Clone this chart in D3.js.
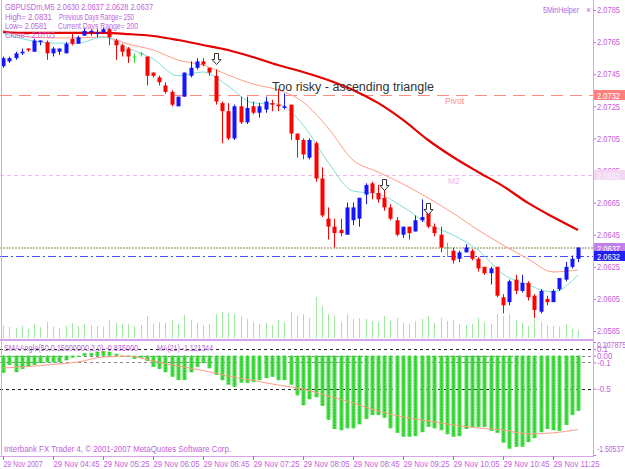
<!DOCTYPE html>
<html>
<head>
<meta charset="utf-8">
<script src="https://cdn.jsdelivr.net/npm/d3@7"></script>
<style>
  body { margin: 0; background: #fff; }
  svg text { font-family: "Liberation Sans", Arial, sans-serif; }
</style>
</head>
<body>
<svg id="chart" width="625" height="469"></svg>
<script>
// GBPUSDm M5 bars, 29 Nov 2007 04:05 .. 11:45
const opens = [
  2.0750, 2.0753, 2.0755, 2.0758, 2.0761, 2.0759, 2.0765, 2.0765, 2.0758, 2.0759,
  2.0758, 2.0767, 2.0764, 2.0769, 2.0771, 2.0770, 2.0771, 2.0773, 2.0766, 2.0763,
  2.0761, 2.0756, 2.0758, 2.0756, 2.0746, 2.0743, 2.0738, 2.0734, 2.0725, 2.0731,
  2.0744, 2.0749, 2.0753, 2.0749, 2.0744, 2.0727, 2.0722, 2.0705, 2.0725, 2.0715,
  2.0725, 2.0721, 2.0723, 2.0727, 2.0726, 2.0724, 2.0726, 2.0708, 2.0704, 2.0693,
  2.0702, 2.0680, 2.0655, 2.0650, 2.0648, 2.0645, 2.0654, 2.0655, 2.0670, 2.0677,
  2.0671, 2.0668, 2.0662, 2.0654, 2.0645, 2.0650, 2.0647, 2.0654, 2.0659, 2.0650,
  2.0645, 2.0637, 2.0635, 2.0630, 2.0634, 2.0635, 2.0630, 2.0625, 2.0621, 2.0625,
  2.0606, 2.0603, 2.0617, 2.0610, 2.0615, 2.0607, 2.0597, 2.0605, 2.0603, 2.0611,
  2.0617, 2.0625, 2.0630
];
const highs = [
  2.0756, 2.0756, 2.0759, 2.0761, 2.0761, 2.0767, 2.0766, 2.0766, 2.0762, 2.0761,
  2.0765, 2.0771, 2.0769, 2.0774, 2.0773, 2.0773, 2.0774, 2.0774, 2.0767, 2.0764,
  2.0762, 2.0758, 2.0759, 2.0756, 2.0746, 2.0744, 2.0740, 2.0735, 2.0731, 2.0746,
  2.0753, 2.0755, 2.0755, 2.0749, 2.0748, 2.0728, 2.0727, 2.0726, 2.0731, 2.0731,
  2.0728, 2.0727, 2.0731, 2.0729, 2.0736, 2.0733, 2.0726, 2.0708, 2.0705, 2.0705,
  2.0703, 2.0687, 2.0662, 2.0655, 2.0655, 2.0665, 2.0665, 2.0668, 2.0677, 2.0678,
  2.0676, 2.0678, 2.0664, 2.0656, 2.0650, 2.0650, 2.0657, 2.0667, 2.0660, 2.0652,
  2.0650, 2.0640, 2.0637, 2.0635, 2.0639, 2.0636, 2.0631, 2.0625, 2.0625, 2.0625,
  2.0608, 2.0617, 2.0620, 2.0620, 2.0616, 2.0608, 2.0611, 2.0607, 2.0611, 2.0618,
  2.0628, 2.0632, 2.0637
];
const lows = [
  2.0749, 2.0752, 2.0754, 2.0757, 2.0759, 2.0759, 2.0763, 2.0754, 2.0756, 2.0757,
  2.0758, 2.0763, 2.0764, 2.0769, 2.0769, 2.0768, 2.0770, 2.0763, 2.0754, 2.0756,
  2.0752, 2.0752, 2.0756, 2.0738, 2.0743, 2.0738, 2.0733, 2.0725, 2.0725, 2.0731,
  2.0743, 2.0748, 2.0750, 2.0744, 2.0726, 2.0702, 2.0704, 2.0704, 2.0714, 2.0714,
  2.0720, 2.0718, 2.0721, 2.0722, 2.0722, 2.0723, 2.0704, 2.0693, 2.0692, 2.0692,
  2.0678, 2.0656, 2.0642, 2.0637, 2.0644, 2.0645, 2.0651, 2.0650, 2.0664, 2.0667,
  2.0665, 2.0660, 2.0654, 2.0644, 2.0643, 2.0642, 2.0647, 2.0653, 2.0649, 2.0644,
  2.0634, 2.0631, 2.0627, 2.0628, 2.0634, 2.0629, 2.0622, 2.0620, 2.0614, 2.0606,
  2.0596, 2.0601, 2.0608, 2.0609, 2.0604, 2.0593, 2.0596, 2.0601, 2.0603, 2.0610,
  2.0616, 2.0624, 2.0628
];
const closes = [
  2.0755, 2.0755, 2.0758, 2.0759, 2.0760, 2.0766, 2.0766, 2.0758, 2.0761, 2.0761,
  2.0764, 2.0764, 2.0768, 2.0772, 2.0772, 2.0771, 2.0773, 2.0768, 2.0763, 2.0759,
  2.0756, 2.0756, 2.0758, 2.0744, 2.0744, 2.0740, 2.0734, 2.0726, 2.0731, 2.0746,
  2.0749, 2.0753, 2.0751, 2.0746, 2.0728, 2.0722, 2.0705, 2.0725, 2.0715, 2.0724,
  2.0721, 2.0725, 2.0728, 2.0726, 2.0725, 2.0725, 2.0708, 2.0704, 2.0695, 2.0704,
  2.0680, 2.0657, 2.0650, 2.0646, 2.0646, 2.0662, 2.0662, 2.0668, 2.0676, 2.0671,
  2.0667, 2.0662, 2.0655, 2.0645, 2.0650, 2.0646, 2.0654, 2.0656, 2.0650, 2.0646,
  2.0637, 2.0637, 2.0629, 2.0634, 2.0637, 2.0630, 2.0624, 2.0621, 2.0624, 2.0607,
  2.0601, 2.0616, 2.0610, 2.0615, 2.0606, 2.0598, 2.0610, 2.0603, 2.0610, 2.0618,
  2.0625, 2.0630, 2.0637
];
const volumes = [
  60, 55, 50, 60, 45, 70, 55, 80, 55, 50,
  60, 75, 60, 70, 65, 60, 55, 90, 75, 70,
  70, 60, 65, 110, 70, 80, 75, 90, 70, 115,
  90, 75, 65, 70, 120, 130, 125, 120, 110, 95,
  80, 70, 75, 65, 90, 80, 130, 110, 120, 100,
  205, 160, 120, 110, 80, 120, 95, 100, 95, 85,
  80, 110, 85, 100, 75, 70, 85, 95, 110, 75,
  100, 85, 90, 70, 65, 70, 100, 80, 70, 120,
  110, 120, 90, 75, 60, 95, 80, 65, 60, 55,
  70, 45, 40
];

// moving averages, sampled every 4 bars (bar 0, 4, ... 92)
const maStep = 4;
const maSlow = [2.07713, 2.07707, 2.07707, 2.07707, 2.07707, 2.07700, 2.07688, 2.07663,
  2.07632, 2.07601, 2.07557, 2.07507, 2.07464, 2.07414, 2.07352, 2.07271,
  2.07165, 2.07040, 2.06934, 2.06841, 2.06753, 2.06648, 2.06560, 2.06479];
const maMid = [2.07725, 2.07682, 2.07676, 2.07676, 2.07682, 2.07638, 2.07601, 2.07538,
  2.07507, 2.07445, 2.07389, 2.07352, 2.07277, 2.07115, 2.06915, 2.06841,
  2.06766, 2.06679, 2.06585, 2.06479, 2.06386, 2.06299, 2.06218, 2.06230];
const maFast = [2.07707, 2.07663, 2.07644, 2.07644, 2.07682, 2.07613, 2.07545, 2.07439,
  2.07464, 2.07377, 2.07271, 2.07264, 2.07134, 2.06903, 2.06722, 2.06704,
  2.06623, 2.06517, 2.06448, 2.06355, 2.06205, 2.06137, 2.06093, 2.06199];

// SMAAngle histogram and its MA(21)
const angle = [
  -0.26, -0.14, -0.25, -0.20, -0.16, -0.14, -0.11, -0.10, -0.10, -0.10,
  -0.07, -0.03, -0.01, 0.04, 0.04, 0.06, 0.07, 0.06, 0.03, -0.01,
  -0.01, -0.05, -0.03, -0.08, -0.17, -0.20, -0.25, -0.32, -0.37, -0.37,
  -0.25, -0.17, -0.11, -0.19, -0.29, -0.37, -0.44, -0.47, -0.41, -0.41,
  -0.40, -0.37, -0.34, -0.32, -0.37, -0.37, -0.44, -0.60, -0.75, -0.66,
  -0.63, -0.76, -0.97, -1.11, -1.13, -1.10, -1.10, -1.04, -0.96, -0.90,
  -0.90, -0.94, -1.10, -1.17, -1.23, -1.23, -1.22, -1.16, -1.08, -1.10,
  -1.13, -1.19, -1.23, -1.22, -1.11, -1.08, -1.08, -1.08, -1.14, -1.17,
  -1.32, -1.41, -1.38, -1.38, -1.31, -1.25, -1.16, -1.11, -1.13, -1.14,
  -1.05, -0.90, -0.835
];
const angleMa = [-0.186, -0.164, -0.133, -0.095, -0.020, -0.005, -0.080, -0.156,
  -0.224, -0.308, -0.376, -0.444, -0.505, -0.611, -0.717, -0.838,
  -0.929, -0.989, -1.050, -1.095, -1.126, -1.186, -1.170, -1.121];

const priceTicks = [2.0785, 2.0765, 2.0745, 2.0725, 2.0705, 2.0685, 2.0665, 2.0645, 2.0625, 2.0605, 2.0585];
const subTicks = [0.207875, 0.1, 0.0, -0.1, -0.5, -1.50537];
const timeLabels = ['29 Nov 2007', '29 Nov 04:45', '29 Nov 05:25', '29 Nov 06:05', '29 Nov 06:45',
  '29 Nov 07:25', '29 Nov 08:05', '29 Nov 08:45', '29 Nov 09:25', '29 Nov 10:05', '29 Nov 10:45', '29 Nov 11:25'];
const levels = { pivot: 2.0732, m2: 2.0682, bid: 2.0637, ask: 2.0632 };
const angleLevels = [0.1, 0.0, -0.1, -0.5];
const arrowBars = [34, 61, 68];
const arrowPrices = [2.0758, 2.0680, 2.0665];

const W = 625, H = 469;
const violet = '#bf5fdc';
const axisX = 593;

const svg = d3.select('#chart');
svg.append('rect').attr('width', W).attr('height', H).attr('fill', '#fff');

const x = d3.scaleLinear().domain([0, 92]).range([3, 578]);
const y = d3.scaleLinear().domain([2.0585, 2.0785]).range([331, 10]);
const yVol = d3.scaleLinear().domain([0, 250]).range([338, 288]);
const ySub = d3.scaleLinear().domain([-1.50537, 0.207875]).range([455, 342]);

const bars = d3.range(opens.length).map(i => ({
  i, o: opens[i], h: highs[i], l: lows[i], c: closes[i], v: volumes[i], a: angle[i]
}));
const px = i => Math.round(x(i)) + 0.5;

// the terminal font is narrower than Liberation Sans: squeeze text horizontally
function narrow(sel, factor) {
  sel.each(function () {
    const len = this.getComputedTextLength();
    d3.select(this).attr('textLength', len * factor).attr('lengthAdjust', 'spacingAndGlyphs');
  });
}
function fitTo(sel, width) {
  sel.attr('textLength', width).attr('lengthAdjust', 'spacingAndGlyphs');
}

// volumes
svg.append('g').selectAll('line')
  .data(bars)
  .join('line')
  .attr('x1', d => px(d.i)).attr('x2', d => px(d.i))
  .attr('y1', yVol(0)).attr('y2', d => yVol(d.v))
  .attr('stroke', '#9fe89f').attr('stroke-width', 1);

// horizontal levels
const lvl = svg.append('g');
const hl = v => Math.round(y(v)) + 0.5;
lvl.append('line').attr('x1', 0).attr('x2', axisX)
  .attr('y1', hl(levels.pivot)).attr('y2', hl(levels.pivot))
  .attr('stroke', '#ff8a80').attr('stroke-dasharray', '12,7');
lvl.append('line').attr('x1', 0).attr('x2', axisX)
  .attr('y1', hl(levels.m2)).attr('y2', hl(levels.m2))
  .attr('stroke', '#efb8ef').attr('stroke-dasharray', '4,3');
lvl.append('line').attr('x1', 0).attr('x2', axisX)
  .attr('y1', Math.round(y(levels.bid))).attr('y2', Math.round(y(levels.bid)))
  .attr('stroke', '#c9c2a8').attr('stroke-width', 2).attr('stroke-dasharray', '2,1');
lvl.append('line').attr('x1', 0).attr('x2', axisX)
  .attr('y1', hl(levels.ask)).attr('y2', hl(levels.ask))
  .attr('stroke', '#4a4aff').attr('stroke-dasharray', '8,3,2,3');

lvl.append('text').attr('x', 445).attr('y', y(levels.pivot) + 9)
  .attr('font-size', 9).attr('fill', '#ff8a80').text('Pivot').call(narrow, 0.95);
lvl.append('text').attr('x', 448).attr('y', y(levels.m2) + 9)
  .attr('font-size', 9).attr('fill', '#efb8ef').text('M2').call(narrow, 0.95);

// moving averages
const maLine = d3.line()
  .x((d, k) => x(k * maStep))
  .y(d => y(d))
  .curve(d3.curveMonotoneX);
svg.append('path').datum(maMid).attr('d', maLine)
  .attr('fill', 'none').attr('stroke', '#ff9c84').attr('stroke-width', 1);
svg.append('path').datum(maFast).attr('d', maLine)
  .attr('fill', 'none').attr('stroke', '#7ee0dc').attr('stroke-width', 1);
svg.append('path').datum(maSlow).attr('d', maLine)
  .attr('fill', 'none').attr('stroke', '#e60000').attr('stroke-width', 2.2);

// candles
const colorOf = d => d.c > d.o ? '#1515ff' : (d.c < d.o ? '#ff0000' : '#33dd33');
const cg = svg.append('g');
cg.selectAll('line')
  .data(bars)
  .join('line')
  .attr('x1', d => px(d.i)).attr('x2', d => px(d.i))
  .attr('y1', d => y(d.h)).attr('y2', d => y(d.l))
  .attr('stroke', colorOf);
cg.selectAll('rect')
  .data(bars)
  .join('rect')
  .attr('x', d => Math.round(x(d.i)) - 1.5)
  .attr('y', d => Math.min(y(d.o), y(d.c)))
  .attr('width', 4)
  .attr('height', d => Math.max(1, Math.abs(y(d.o) - y(d.c))))
  .attr('fill', colorOf);

// arrows
const arrowPath = 'M-2,0 L2,0 L2,6 L4.5,6 L0,11 L-4.5,6 L-2,6 Z';
svg.append('g').selectAll('path')
  .data(arrowBars)
  .join('path')
  .attr('d', arrowPath)
  .attr('transform', (d, k) => `translate(${Math.round(x(d)) + 0.5},${Math.round(y(arrowPrices[k])) + 0.5})`)
  .attr('fill', '#fff').attr('stroke', '#333').attr('stroke-width', 1);

svg.append('text').attr('x', 272).attr('y', 91)
  .attr('font-size', 12.5).attr('fill', '#333')
  .text('Too risky - ascending triangle');

// price axis
const pAxis = svg.append('g').attr('transform', `translate(${axisX},0)`)
  .call(d3.axisRight(y).tickValues(priceTicks).tickFormat(d3.format('.4f')).tickSize(3).tickPadding(1));
pAxis.select('.domain').remove();
pAxis.selectAll('line').attr('stroke', violet);
pAxis.selectAll('text').attr('fill', violet).attr('font-size', 8.5)
  .attr('font-family', '"Liberation Sans", Arial').call(fitTo, 23);

// price tags
const tags = [
  { v: levels.pivot, bg: '#ff7f7f', fg: '#fff' },
  { v: levels.m2, bg: '#f3d7f3', fg: '#fdf5fd' },
  { v: levels.bid, bg: '#c080e8', fg: '#fff' },
  { v: levels.ask, bg: '#2222ee', fg: '#fff' }
];
const tg = svg.append('g');
tags.forEach(t => {
  const ty = Math.round(y(t.v));
  tg.append('rect').attr('x', axisX + 1).attr('y', ty - 5).attr('width', 32).attr('height', 10).attr('fill', t.bg);
  tg.append('text').attr('x', axisX + 4).attr('y', ty + 3.5).attr('font-size', 8.5)
    .attr('fill', t.fg).text(t.v.toFixed(4)).call(fitTo, 23);
});

// sub window
const sub = svg.append('g');
angleLevels.forEach(v => {
  sub.append('line').attr('x1', 0).attr('x2', axisX)
    .attr('y1', Math.round(ySub(v)) + 0.5).attr('y2', Math.round(ySub(v)) + 0.5)
    .attr('stroke', v === 0.1 || v === -0.5 ? '#222' : '#888')
    .attr('stroke-dasharray', '3,3');
});
sub.selectAll('rect.hist')
  .data(bars)
  .join('rect')
  .attr('class', 'hist')
  .attr('x', d => Math.round(x(d.i)) - 1.5)
  .attr('y', d => Math.min(ySub(0), ySub(d.a)))
  .attr('width', 4)
  .attr('height', d => Math.max(1, Math.abs(ySub(d.a) - ySub(0))))
  .attr('fill', '#44dd44');
sub.selectAll('line.core')
  .data(bars)
  .join('line')
  .attr('class', 'core')
  .attr('x1', d => px(d.i)).attr('x2', d => px(d.i))
  .attr('y1', d => ySub(0)).attr('y2', d => ySub(d.a))
  .attr('stroke', '#22a822').attr('stroke-dasharray', '1,2');
sub.append('path').datum(angleMa)
  .attr('d', d3.line().x((d, k) => x(k * maStep)).y(d => ySub(d)).curve(d3.curveMonotoneX))
  .attr('fill', 'none').attr('stroke', '#ff9c84').attr('stroke-width', 1);

const sAxis = svg.append('g').attr('transform', `translate(${axisX},0)`)
  .call(d3.axisRight(ySub).tickValues(subTicks)
    .tickFormat(d => d === 0 ? '0.00' : String(d)).tickSize(3).tickPadding(1));
sAxis.select('.domain').remove();
sAxis.selectAll('line').attr('stroke', violet);
sAxis.selectAll('text').attr('fill', violet).attr('font-size', 8.5)
  .attr('font-family', '"Liberation Sans", Arial')
  .attr('dy', d => d === subTicks[0] ? '0.7em' : (d === subTicks[5] ? '-0.4em' : '0.32em'))
  .each(function (d) {
    const s = d3.select(this);
    if (d === subTicks[5]) fitTo(s, 27);
    else if (d === subTicks[0]) fitTo(s, 29);
    else narrow(s, 0.93);
  });

// frames
const fr = svg.append('g').attr('stroke', '#d9a3ec').attr('fill', 'none');
fr.append('line').attr('x1', 1.5).attr('x2', 1.5).attr('y1', 0).attr('y2', 456);
fr.append('line').attr('x1', axisX + 0.5).attr('x2', axisX + 0.5).attr('y1', 0).attr('y2', 456);
fr.append('line').attr('x1', 0).attr('x2', axisX).attr('y1', 340).attr('y2', 340).attr('stroke-width', 2);
fr.append('line').attr('x1', 0).attr('x2', axisX + 1).attr('y1', 456.5).attr('y2', 456.5);

// time axis
const tAxis = svg.append('g').attr('transform', 'translate(0,456)')
  .call(d3.axisBottom(x).tickValues(d3.range(0, 92, 8)).tickFormat((d, k) => timeLabels[k]).tickSize(4).tickPadding(1));
tAxis.select('.domain').remove();
tAxis.selectAll('line').attr('stroke', violet);
tAxis.selectAll('text').attr('fill', violet).attr('font-size', 8.5).attr('text-anchor', 'start')
  .attr('dx', 0).attr('font-family', '"Liberation Sans", Arial')
  .each(function (d, k) { fitTo(d3.select(this), k === 0 ? 39 : 46); });

// info texts
const info = svg.append('g').attr('fill', violet).attr('font-size', 8.5);
const note = (tx, ty, s, w) => info.append('text').attr('x', tx).attr('y', ty).text(s).call(fitTo, w);
note(5, 10, 'GBPUSDm,M5  2.0630 2.0637 2.0628 2.0637', 148);
note(5, 19.5, 'High= 2.0831', 47);
note(59, 19.5, 'Previous Days Range= 250', 75);
note(5, 28.5, 'Low= 2.0581', 42);
note(58, 28.5, 'Current Days Range= 200', 80);
note(5, 37.5, 'Close= 2.0703', 50);
note(543, 13, '5MinHelper', 36);
info.append('text').attr('x', 586).attr('y', 13).text('×');
note(4, 351, 'SMAAngle(50,0.15000000,2,0) -0.835000', 134);
note(157, 351, 'MA(21) -1.121344', 56);
note(4, 452, 'Interbank FX Trader 4, © 2001-2007 MetaQuotes Software Corp.', 227);
</script>
</body>
</html>
